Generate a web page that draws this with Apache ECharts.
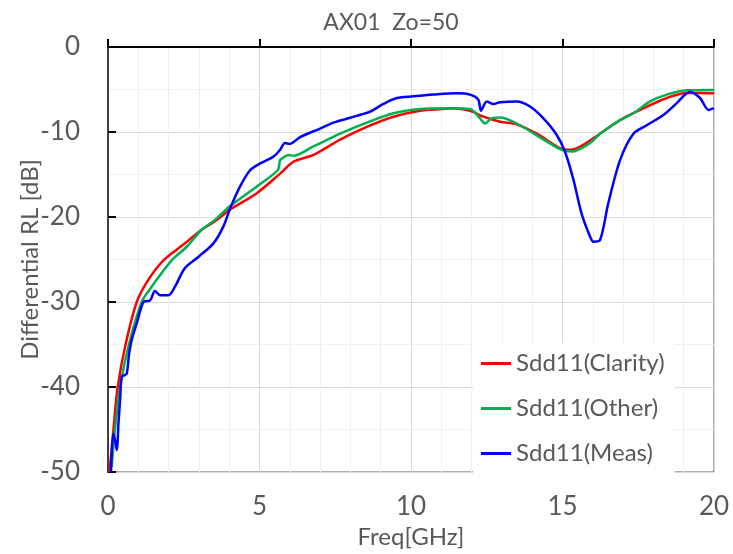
<!DOCTYPE html>
<html>
<head>
<meta charset="utf-8">
<script src="https://cdn.jsdelivr.net/npm/echarts@6/dist/echarts.min.js"></script>
<style>
  html, body { margin: 0; padding: 0; background: #fff; }
  #chart { width: 733px; height: 554px; }
</style>
</head>
<body>
<div id="chart"></div>
<script>
// Sdd11 return loss (GHz / dB)
const clarityFreq = [0.05, 0.18, 0.32, 0.58, 0.95, 1.33, 1.83, 2.54, 3.09, 3.53, 4.0, 4.91, 5.68, 6.12, 6.78, 7.66, 8.54, 9.42, 10.3, 11.0, 11.4, 11.95, 12.39, 12.94, 13.49, 14.15, 14.92, 15.25, 15.6, 16.24, 16.9, 17.56, 18.44, 19.1, 19.5, 20];
const clarityDb = [-50, -45, -40, -35, -30, -27.4, -25.1, -23.1, -21.5, -20.5, -19.2, -17.2, -14.9, -13.5, -12.7, -10.9, -9.4, -8.2, -7.5, -7.3, -7.2, -7.5, -8.2, -8.8, -9.1, -10.2, -11.9, -12.1, -11.7, -10.2, -8.6, -7.4, -6.0, -5.4, -5.4, -5.45];

const otherFreq = [0.12, 0.23, 0.4, 0.69, 1.11, 1.44, 2.1, 2.6, 3.09, 3.53, 4.0, 4.91, 5.6, 5.68, 5.75, 5.95, 6.12, 6.78, 7.66, 8.54, 9.42, 10.3, 11.29, 11.95, 12.28, 12.44, 12.66, 12.94, 13.49, 14.15, 14.92, 15.3, 15.91, 16.24, 16.9, 17.34, 17.89, 18.44, 19.1, 20];
const otherDb = [-49.4, -45, -40, -35, -30, -28.2, -25.1, -23.5, -21.5, -20.35, -18.8, -16.4, -14.5, -13.3, -13.1, -12.7, -12.8, -11.7, -10.2, -8.9, -7.8, -7.3, -7.2, -7.3, -8.4, -9.0, -8.4, -8.3, -9.0, -10.4, -12.0, -12.3, -11.3, -10.2, -8.6, -7.8, -6.4, -5.6, -5.1, -5.06];

const measFreq = [0.1, 0.17, 0.23, 0.29, 0.35, 0.4, 0.45, 0.55, 0.62, 0.7, 0.78, 0.95, 1.17, 1.39, 1.55, 1.72, 1.99, 2.21, 2.54, 2.98, 3.48, 3.81, 4.03, 4.36, 4.69, 5.02, 5.46, 5.68, 5.84, 6.0, 6.34, 7.0, 7.44, 8.2, 8.65, 9.09, 9.53, 10.08, 10.74, 11.5, 11.95, 12.22, 12.31, 12.5, 12.72, 12.94, 13.49, 13.93, 14.37, 14.81, 15.08, 15.36, 15.63, 15.91, 16.02, 16.24, 16.51, 16.9, 17.34, 17.78, 18.33, 18.77, 19.21, 19.54, 19.82, 20];
const measDb = [-50, -45.5, -46.2, -47.4, -44, -41.5, -38.8, -38.6, -38.4, -36, -34.5, -32.5, -30.0, -29.8, -28.7, -29.2, -29.2, -28.2, -26.0, -24.7, -23.1, -21.1, -19.0, -16.4, -14.5, -13.7, -12.9, -12.1, -11.3, -11.4, -10.6, -9.6, -8.9, -8.1, -7.6, -6.7, -6.0, -5.8, -5.6, -5.45, -5.6, -6.2, -7.5, -6.4, -6.7, -6.5, -6.4, -7.0, -8.4, -10.35, -12.3, -15.6, -19.6, -22.3, -22.9, -22.7, -18.4, -13.3, -10.2, -9.2, -8.0, -6.6, -5.25, -6.0, -7.4, -7.2];

const seriesNames = ['Sdd11(Clarity)', 'Sdd11(Other)', 'Sdd11(Meas)'];
const seriesColors = ['#ff0000', '#00b050', '#0000ff'];

const zip = (xs, ys) => xs.map((x, i) => [x, ys[i]]);
const textColor = '#595959';
const font = 'Lato';

const chart = echarts.init(document.getElementById('chart'));
const option = {
  animation: false,
  textStyle: { fontFamily: font },
  title: {
    text: 'AX01  Zo=50',
    left: 386, top: 6, textAlign: 'center',
    textStyle: { fontFamily: font, fontSize: 23, fontWeight: 'normal', color: textColor }
  },
  grid: {
    left: 108, right: 19, top: 47, bottom: 82,
    show: true, borderColor: '#595959', borderWidth: 1
  },
  legend: {
    orient: 'vertical',
    left: 473, top: 343,
    backgroundColor: '#fff',
    padding: [8, 10, 20, 8],
    icon: 'rect',
    itemWidth: 30, itemHeight: 3, itemGap: 20,
    textStyle: { fontFamily: font, fontSize: 24, color: textColor, lineHeight: 25 },
    data: seriesNames
  },
  xAxis: {
    type: 'value', min: 0, max: 20, interval: 5,
    name: 'Freq[GHz]', nameLocation: 'middle', nameGap: 52,
    nameTextStyle: { fontFamily: font, fontSize: 24, color: textColor },
    axisLine: { lineStyle: { color: '#000', width: 2 } },
    axisTick: { inside: true, length: 8, lineStyle: { color: '#000', width: 2 } },
    axisLabel: { fontFamily: font, fontSize: 26, color: textColor, margin: 22 },
    splitLine: { lineStyle: { color: '#d9d9d9', width: 1 } },
    minorTick: { show: false, splitNumber: 5 },
    minorSplitLine: { show: true, lineStyle: { color: '#f0f0f0', width: 1 } }
  },
  yAxis: {
    type: 'value', min: -50, max: 0, interval: 10,
    name: 'Differential RL [dB]', nameLocation: 'middle', nameGap: 66,
    nameMoveOverlap: false,
    nameTextStyle: { fontFamily: font, fontSize: 24, color: textColor },
    axisLine: { lineStyle: { color: '#404040', width: 2 } },
    axisTick: { inside: true, length: 8, lineStyle: { color: '#000', width: 2 } },
    axisLabel: { fontFamily: font, fontSize: 26, color: textColor, margin: 28 },
    splitLine: { lineStyle: { color: '#d9d9d9', width: 1 } },
    minorTick: { show: false, splitNumber: 2 },
    minorSplitLine: { show: true, lineStyle: { color: '#f0f0f0', width: 1 } }
  },
  series: [
    { name: seriesNames[0], data: zip(clarityFreq, clarityDb) },
    { name: seriesNames[1], data: zip(otherFreq, otherDb) },
    { name: seriesNames[2], data: zip(measFreq, measDb) }
  ].map((s, i) => ({
    ...s,
    type: 'line',
    symbol: 'none',
    smooth: 0.3,
    color: seriesColors[i],
    lineStyle: { color: seriesColors[i], width: 2.5 }
  }))
};
chart.setOption(option);
</script>
</body>
</html>
